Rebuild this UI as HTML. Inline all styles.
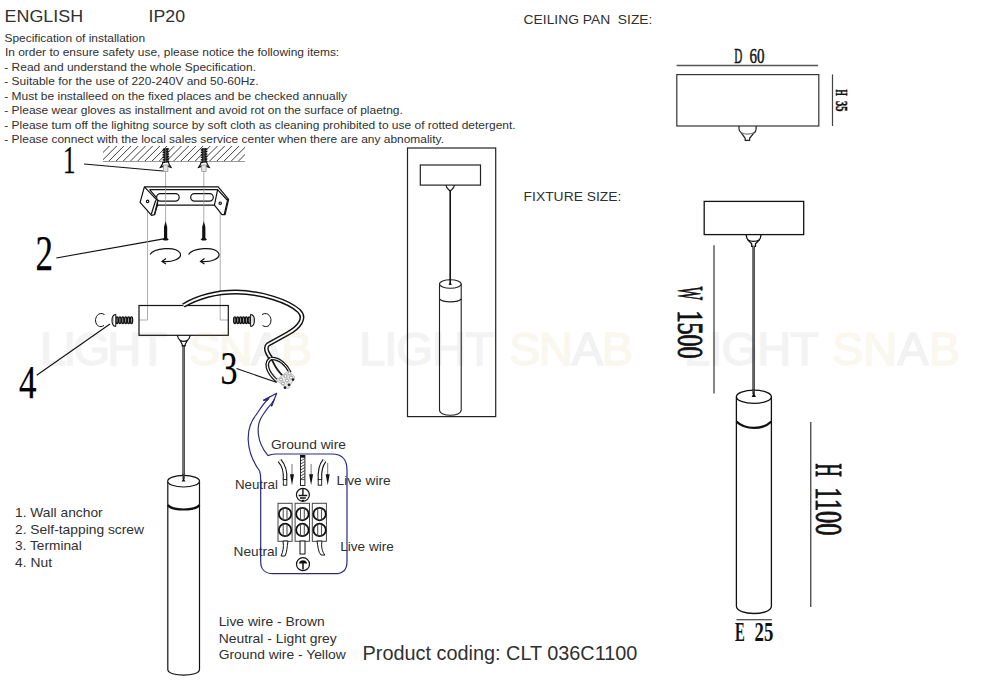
<!DOCTYPE html>
<html><head><meta charset="utf-8">
<style>
html,body{margin:0;padding:0;background:#fff;width:1000px;height:690px;overflow:hidden}
svg{display:block}
.t{font-family:"Liberation Sans",sans-serif;fill:#303030}
.s{font-family:"Liberation Serif",serif;fill:#111;font-weight:bold}
.wm{font-family:"Liberation Sans",sans-serif;font-size:46px;font-weight:bold}
</style></head>
<body>
<svg width="1000" height="690" viewBox="0 0 1000 690">
<!-- header text -->
<g class="t">
<text x="4.6" y="21.6" font-size="16.5" textLength="78.5" lengthAdjust="spacingAndGlyphs">ENGLISH</text>
<text x="148.6" y="21.6" font-size="16.5" textLength="36.5" lengthAdjust="spacingAndGlyphs">IP20</text>
<g font-size="11.5">
<text x="4.5" y="41.7" textLength="140.6" lengthAdjust="spacingAndGlyphs">Specification of installation</text>
<text x="4.9" y="56" textLength="334.3" lengthAdjust="spacingAndGlyphs">In order to ensure safety use, please notice the following items:</text>
<text x="4.3" y="71" textLength="251.7" lengthAdjust="spacingAndGlyphs">- Read and understand the whole Specification.</text>
<text x="4.3" y="85.3" textLength="254.3" lengthAdjust="spacingAndGlyphs">- Suitable for the use of 220-240V and 50-60Hz.</text>
<text x="4.3" y="99.8" textLength="342.7" lengthAdjust="spacingAndGlyphs">- Must be installeed on the fixed places and be checked annually</text>
<text x="4.3" y="114.2" textLength="398.5" lengthAdjust="spacingAndGlyphs">- Please wear gloves as installment and avoid rot on the surface of plaetng.</text>
<text x="4.3" y="128.6" textLength="511.3" lengthAdjust="spacingAndGlyphs">- Please tum off the lighitng source by soft cloth as cleaning prohibited to use of rotted detergent.</text>
<text x="4.3" y="143" textLength="439.7" lengthAdjust="spacingAndGlyphs">- Please connect with the local sales service center when there are any abnomality.</text>
</g>
<text x="523.6" y="24" font-size="13.5" textLength="128.8" lengthAdjust="spacingAndGlyphs" xml:space="preserve">CEILING PAN  SIZE:</text>
<text x="523.6" y="200.8" font-size="13.5" textLength="97.8" lengthAdjust="spacingAndGlyphs">FIXTURE SIZE:</text>

<g font-size="13">
<text x="15" y="516.8" textLength="87.7" lengthAdjust="spacingAndGlyphs">1. Wall anchor</text>
<text x="15" y="533.5" textLength="129" lengthAdjust="spacingAndGlyphs">2. Self-tapping screw</text>
<text x="15" y="550.3" textLength="66.7" lengthAdjust="spacingAndGlyphs">3. Terminal</text>
<text x="15" y="567.1" textLength="37" lengthAdjust="spacingAndGlyphs">4. Nut</text>
<text x="218.7" y="625.8" textLength="106" lengthAdjust="spacingAndGlyphs">Live wire - Brown</text>
<text x="218.7" y="642.5" textLength="118" lengthAdjust="spacingAndGlyphs">Neutral - Light grey</text>
<text x="218.7" y="659.2" textLength="127" lengthAdjust="spacingAndGlyphs">Ground wire - Yellow</text>
</g>
<text x="362.6" y="660" font-size="20" textLength="274.8" lengthAdjust="spacingAndGlyphs">Product coding: CLT 036C1100</text>

<g font-size="12.2">
<text x="270.9" y="448.5" textLength="75" lengthAdjust="spacingAndGlyphs">Ground wire</text>
<text x="234.9" y="489.4" textLength="43" lengthAdjust="spacingAndGlyphs">Neutral</text>
<text x="336.6" y="484.9" textLength="54" lengthAdjust="spacingAndGlyphs">Live wire</text>
<text x="233.6" y="556.2" textLength="44" lengthAdjust="spacingAndGlyphs">Neutral</text>
<text x="340.2" y="551" textLength="53.6" lengthAdjust="spacingAndGlyphs">Live wire</text>
</g>
</g>

<!-- big callout numbers -->
<g font-family="Liberation Serif" fill="#000" stroke="#000" stroke-width="0.25">
<text x="63" y="172.8" font-size="39" textLength="12.5" lengthAdjust="spacingAndGlyphs">1</text>
<text x="35.6" y="269.9" font-size="50.5" textLength="17.5" lengthAdjust="spacingAndGlyphs">2</text>
<text x="220.5" y="383.5" font-size="46" textLength="17" lengthAdjust="spacingAndGlyphs">3</text>
<text x="19" y="397.6" font-size="46.5" textLength="17.5" lengthAdjust="spacingAndGlyphs">4</text>
</g>

<!-- leader lines -->
<g stroke="#111" stroke-width="1.1" fill="none">
<line x1="84" y1="164" x2="163" y2="171"/>
<line x1="56.3" y1="258" x2="165" y2="238.6"/>
<line x1="236.5" y1="368.5" x2="276.3" y2="382.3"/>
<line x1="36.7" y1="375.3" x2="110" y2="324"/>
</g>

<!-- ceiling hatch -->
<defs>
<clipPath id="hc"><rect x="103" y="145.5" width="142" height="16"/></clipPath>
</defs>
<g clip-path="url(#hc)" stroke="#333" stroke-width="0.95"><path d="M86.8 161.5 l15.5 -15.5 M94.0 161.5 l15.5 -15.5 M101.2 161.5 l15.5 -15.5 M108.4 161.5 l15.5 -15.5 M115.6 161.5 l15.5 -15.5 M122.8 161.5 l15.5 -15.5 M130.0 161.5 l15.5 -15.5 M137.2 161.5 l15.5 -15.5 M144.4 161.5 l15.5 -15.5 M151.6 161.5 l15.5 -15.5 M158.8 161.5 l15.5 -15.5 M166.0 161.5 l15.5 -15.5 M173.2 161.5 l15.5 -15.5 M180.4 161.5 l15.5 -15.5 M187.6 161.5 l15.5 -15.5 M194.8 161.5 l15.5 -15.5 M202.0 161.5 l15.5 -15.5 M209.2 161.5 l15.5 -15.5 M216.4 161.5 l15.5 -15.5 M223.6 161.5 l15.5 -15.5 M230.8 161.5 l15.5 -15.5 M238.0 161.5 l15.5 -15.5 M245.2 161.5 l15.5 -15.5 "/></g>
<line x1="103" y1="161.5" x2="245" y2="161.5" stroke="#999" stroke-width="1.2"/>

<!-- thin guide lines -->
<g stroke="#999" stroke-width="0.8">
<line x1="165.6" y1="172" x2="165.6" y2="222"/>
<line x1="203.8" y1="172" x2="203.8" y2="222"/>
<path d="M147.5 202 V320 H139" fill="none"/>
<path d="M220.2 203 V320 H228.3" fill="none"/>
</g>

<!-- wall anchors -->
<g id="anchor">
<path d="M163.4 148 H168 L168.6 162 L164 163 Z" fill="#333"/>
<path d="M162.6 150 l6.6 -1.2 M162.6 152.5 l6.6 -1.2 M162.6 155 l6.6 -1.2 M162.6 157.5 l6.6 -1.2 M162.6 160 l6.6 -1.2 M162.6 162.5 l6.6 -1.2" stroke="#111" stroke-width="1.3"/>
<path d="M165.7 148 V163" stroke="#777" stroke-width="0.8"/>
<path d="M163 162 C162.5 165 161 166.5 160.3 167.5 C162 167.2 163.2 166.5 163.6 165.5 M168.4 162 C168.9 165 170.4 166.5 171.1 167.5 C169.4 167.2 168.2 166.5 167.8 165.5" fill="none" stroke="#111" stroke-width="1.2"/>
<rect x="163.5" y="165" width="4.4" height="6.5" fill="#e4e4e4" stroke="#888" stroke-width="0.7"/>
</g>
<use href="#anchor" x="38.2"/>

<!-- bracket -->
<g stroke="#111" stroke-width="1.2" fill="#fff" stroke-linejoin="round">
<path d="M144.4 186.9 H218.2 L228.6 199.4 L225.1 214.7 L222 214.7 L214.4 205.2 H157.4 L154.5 214.7 L151.6 215.3 L140.1 202.3 Z"/>
<path d="M144.4 186.9 L157.7 200.8 L154.5 214.7 M155.7 200.3 L151.3 214.2 M149.6 189.6 L156.3 197.4 M157.7 200.8 L157.4 205.2" fill="none"/>
<path d="M149.6 189.6 H217.6 L227.2 200 M217.6 189.8 L214.4 205.2 M227.5 200.3 L224.3 214.2 M228.6 199.4 L227.2 200" fill="none"/>
<rect x="156.6" y="193.6" width="22.6" height="7.5" rx="3.75"/>
<rect x="190.7" y="193.6" width="22.6" height="7.5" rx="3.75"/>
<circle cx="147.6" cy="201.4" r="1.2"/>
<circle cx="220.2" cy="203.2" r="1.2"/>
</g>
<!-- guide line through slots -->
<g stroke="#999" stroke-width="0.8">
<line x1="165.6" y1="188" x2="165.6" y2="206"/>
<line x1="203.8" y1="188" x2="203.8" y2="206"/>
</g>

<!-- screws -->
<g fill="#111">
<path d="M165.6 221 l1.6 6 v11 l1.6 1.5 l-1.6 1 h-3.2 l-1.6 -1 l1.6 -1.5 v-11 z"/>
<path d="M203.8 221 l1.6 6 v11 l1.6 1.5 l-1.6 1 h-3.2 l-1.6 -1 l1.6 -1.5 v-11 z"/>
</g>

<!-- rotation arrows -->
<g stroke="#111" stroke-width="1.2" fill="none">
<path d="M150 254.5 C154 248 176 246 180 253 C183 259 172 262 163 261.5"/>
<path d="M166 258.5 L162 261.5 L166 264"/>
<path d="M188.5 254.5 C192.5 248 214.5 246 218.5 253 C221.5 259 210.5 262 201.5 261.5"/>
<path d="M204.5 258.5 L200.5 261.5 L204.5 264"/>
</g>

<!-- canopy box -->
<rect x="139" y="305.5" width="89.3" height="29.8" fill="none" stroke="#111" stroke-width="1.2"/>

<!-- side screws -->
<g>
<rect x="115.6" y="317.59999999999997" width="17.30000000000001" height="5.2" fill="#999"/>
<ellipse cx="117.04" cy="320.2" rx="1.21" ry="3.3" fill="none" stroke="#111" stroke-width="1.3"/>
<ellipse cx="119.92" cy="320.2" rx="1.21" ry="3.3" fill="none" stroke="#111" stroke-width="1.3"/>
<ellipse cx="122.81" cy="320.2" rx="1.21" ry="3.3" fill="none" stroke="#111" stroke-width="1.3"/>
<ellipse cx="125.69" cy="320.2" rx="1.21" ry="3.3" fill="none" stroke="#111" stroke-width="1.3"/>
<ellipse cx="128.57" cy="320.2" rx="1.21" ry="3.3" fill="none" stroke="#111" stroke-width="1.3"/>
<ellipse cx="131.46" cy="320.2" rx="1.21" ry="3.3" fill="none" stroke="#111" stroke-width="1.3"/>
<path d="M115.8 314.3 C110.8 315 110.8 325.8 115.8 326.5" fill="#fff" stroke="#111" stroke-width="1.2"/>
<path d="M115.8 314.3 V326.5" stroke="#111" stroke-width="1"/>
<path d="M113.3 317 v6.5" stroke="#aaa" stroke-width="0.9"/>
<rect x="233.4" y="317.59999999999997" width="17.299999999999983" height="5.2" fill="#999"/>
<ellipse cx="234.84" cy="320.2" rx="1.21" ry="3.3" fill="none" stroke="#111" stroke-width="1.3"/>
<ellipse cx="237.72" cy="320.2" rx="1.21" ry="3.3" fill="none" stroke="#111" stroke-width="1.3"/>
<ellipse cx="240.61" cy="320.2" rx="1.21" ry="3.3" fill="none" stroke="#111" stroke-width="1.3"/>
<ellipse cx="243.49" cy="320.2" rx="1.21" ry="3.3" fill="none" stroke="#111" stroke-width="1.3"/>
<ellipse cx="246.38" cy="320.2" rx="1.21" ry="3.3" fill="none" stroke="#111" stroke-width="1.3"/>
<ellipse cx="249.26" cy="320.2" rx="1.21" ry="3.3" fill="none" stroke="#111" stroke-width="1.3"/>
<path d="M250.6 314.3 C255.6 315 255.6 325.8 250.6 326.5" fill="#fff" stroke="#111" stroke-width="1.2"/>
<path d="M250.6 314.3 V326.5" stroke="#111" stroke-width="1"/>
<path d="M253.1 317 v6.5" stroke="#aaa" stroke-width="0.9"/>
</g>
<!-- clips -->
<g stroke="#111" stroke-width="1" fill="none">
<path d="M104.5 314.5 C98 311 95 318 95.6 321 C96 326 100 328 104 325.5"/>
<path d="M262 314.5 C268.5 311 271.5 318 270.9 321 C270.5 326 266.5 328 262.5 325.5"/>
</g>

<!-- nipple and cable (left) -->
<line x1="183.6" y1="345" x2="183.6" y2="480" stroke="#3a3a3a" stroke-width="2.6"/>
<line x1="183.6" y1="345" x2="183.6" y2="480" stroke="#888" stroke-width="0.8"/>
<path d="M177.4 335.3 C177.6 338 178.5 339 180 340.3 L182.2 344.3 V345.8 H185.2 V344.3 L187.5 340.3 C189 339 190 338 190.2 335.3 M180 340.3 C182 341.5 185.5 341.5 187.5 340.3" fill="none" stroke="#111" stroke-width="1.2"/>

<!-- wire loop -->
<path d="M183.4 305.5 C198 297 215 292 236 292 C262 292.5 288 301 299 311 C306 318 300 327 287 334 L268 344.5 C264.5 347.5 267 353 271 358.5" fill="none" stroke="#111" stroke-width="4.8" stroke-linejoin="round"/>
<path d="M183.4 305.5 C198 297 215 292 236 292 C262 292.5 288 301 299 311 C306 318 300 327 287 334 L268 344.5 C264.5 347.5 267 353 271 358.5" fill="none" stroke="#fff" stroke-width="1.9" stroke-linejoin="round"/>
<!-- terminal cluster -->
<g stroke="#1a1a1a" fill="none">
<path d="M271 358.5 C265 362 265.5 371 277.5 381.5" stroke-width="3.8"/>
<path d="M271 358.5 C265 362 265.5 371 277.5 381.5" stroke="#fff" stroke-width="1.2"/>
<path d="M271.5 359 C274 364 277 372 284.5 377" stroke-width="1.8"/>
<path d="M271 358.5 C279.5 358 286.5 365 290 372.5" stroke-width="3.4"/>
<path d="M271 358.5 C279.5 358 286.5 365 290 372.5" stroke="#fff" stroke-width="1"/>
</g>
<path d="M276 380 L288 371 L295 377 L288 389 Z" fill="#e6e6e6" stroke="#aaa" stroke-width="0.7"/>
<g fill="#222">
<circle cx="293" cy="379.6" r="1.4"/><circle cx="289" cy="384.8" r="1.4"/><circle cx="285" cy="387.7" r="1.4"/>
</g>
<g fill="#fff" stroke="#777" stroke-width="0.7">
<circle cx="281" cy="379.5" r="1.5"/><circle cx="285.5" cy="376" r="1.5"/><circle cx="289.5" cy="373.5" r="1.5"/>
<circle cx="283" cy="383.5" r="1.5"/><circle cx="287" cy="380.5" r="1.5"/><circle cx="291" cy="377.5" r="1.5"/>
</g>

<!-- left tube -->
<g stroke="#111" stroke-width="1.2" fill="#fff">
<path d="M167.8 481.2 V669.5 C167.8 677 199.5 677 199.5 669.5 V481.2"/>
<ellipse cx="183.6" cy="481.2" rx="15.9" ry="5.8"/>
</g>
<path d="M167.8 505 C172 511 195 511 199.5 505" fill="none" stroke="#111" stroke-width="2.2"/>
<line x1="183.6" y1="474" x2="183.6" y2="479" stroke="#3a3a3a" stroke-width="2.4"/>
<path d="M181.6 481.5 h3.8 l-1.9 -3.5 z" fill="#111"/>

<!-- blue wiring outline -->
<g stroke="#2b2a80" stroke-width="1.2" fill="none" stroke-linejoin="round">
<path d="M259.6 471 C245 451 245 428 256.3 414.6 C259.5 410 263.5 403 268.5 398.7"/>
<path d="M268 455.6 C256.5 442 255.5 425 262.8 415 C266 410 269.5 405.5 273.5 401.3"/>
<path d="M263.3 400.4 L276.7 393.3 L271.5 406.3"/>
<path d="M268 455.6 C270 454.5 272 454 276 454 H332 C343 454 347 460 347 470 V561.7 C347 570 342 573.7 335 573.7 H273 C265 573.7 260.7 569 260.7 561.7 V480 C260.7 476 260.3 473 259.6 471"/>
</g>
<path d="M263.3 400.4 L270 396.8 L267.6 400.2 Z M271.5 406.3 L274.6 399 L272.6 401.4 Z" fill="#2b2a80" stroke="#2b2a80" stroke-width="0.8"/>

<!-- wiring internals -->
<g fill="none" stroke-linecap="butt">
<path d="M279.5 460.5 C283.5 465 285.8 471 285 480" stroke="#111" stroke-width="4.6"/>
<path d="M279.5 460.5 C283.5 465 285.8 471 285 480" stroke="#fff" stroke-width="2.4"/>
<path d="M324.5 460.5 C320.8 465 319.4 471 320 480" stroke="#111" stroke-width="4.6"/>
<path d="M324.5 460.5 C320.8 465 319.4 471 320 480" stroke="#fff" stroke-width="2.4"/>
</g>
<g stroke="#111" stroke-width="0.9" fill="#fff">
<rect x="283.3" y="479.6" width="3.5" height="5.6"/>
<rect x="300.5" y="455.5" width="4.4" height="30"/>
<rect x="318.2" y="479.6" width="3.5" height="5.6"/>
</g>
<rect x="300.5" y="455.2" width="4.4" height="2.5" fill="#111"/>
<g stroke="#333" stroke-width="0.9">
<path d="M300.5 461 l4.4 -2.5 M300.5 464 l4.4 -2.5 M300.5 467 l4.4 -2.5 M300.5 470 l4.4 -2.5 M300.5 473 l4.4 -2.5 M300.5 476 l4.4 -2.5 M300.5 479 l4.4 -2.5"/>
<line x1="300.5" y1="479.6" x2="304.9" y2="479.6"/>
</g>
<g stroke="#666" stroke-width="0.9">
<line x1="292" y1="464" x2="292" y2="475"/>
<line x1="311.1" y1="464" x2="311.1" y2="475"/>
<line x1="327.7" y1="463" x2="327.7" y2="475"/>
</g>
<g fill="#111">
<path d="M290 474.3 h4 l-2 11 z"/>
<path d="M309.1 474.3 h4 l-2 11 z"/>
<path d="M325.7 474.3 h4 l-2 11 z"/>
</g>
<!-- ground symbols -->
<g stroke="#111" stroke-width="1.2" fill="#fff">
<circle cx="302.9" cy="494.8" r="6.5"/>
<circle cx="303" cy="564.2" r="6.5"/>
</g>
<g stroke="#111" stroke-width="1.2" fill="none">
<path d="M302.9 488.5 v7 M298.6 495.5 h8.6 M300 498 h5.8 M301.6 500.5 h2.6" stroke-width="1.4"/>
<path d="M303 569.5 v-8" stroke-width="1.5"/>
<path d="M298.8 563.5 C299.5 559 306.5 559 307.2 563.5 Z" fill="#111" stroke="none"/>
</g>
<!-- terminal block -->
<g stroke="#444" stroke-width="1" fill="#fff">
<rect x="278" y="503.3" width="14.1" height="38"/>
<rect x="295.1" y="503.3" width="14.4" height="38"/>
<rect x="312.3" y="503.3" width="14.1" height="38"/>
</g>
<g stroke="#111" stroke-width="1.8" fill="#fff">
<circle cx="285.1" cy="514.1" r="6.2"/><circle cx="285.1" cy="529.9" r="6.2"/>
<circle cx="302.4" cy="514.1" r="6.2"/><circle cx="302.4" cy="529.9" r="6.2"/>
<circle cx="319.6" cy="514.1" r="6.2"/><circle cx="319.6" cy="529.9" r="6.2"/>
</g>
<g stroke="#555" stroke-width="1.1">
<path d="M283.2 508.6 v11 M287 508.6 v11 M283.2 524.4 v11 M287 524.4 v11"/>
<path d="M300.5 508.6 v11 M304.3 508.6 v11 M300.5 524.4 v11 M304.3 524.4 v11"/>
<path d="M317.7 508.6 v11 M321.5 508.6 v11 M317.7 524.4 v11 M321.5 524.4 v11"/>
</g>
<!-- lower wires -->
<g stroke="#111" stroke-width="1" fill="#fff">
<path d="M283 541 h5 C287 547 287 552 285 556 h-4 C283 552 284 547 283 541 Z"/>
<rect x="300" y="541" width="5" height="13"/>
<path d="M317 541 h5 C321 546 322 552 325 555 h-4 C318 552 318 546 317 541 Z"/>
</g>

<!-- middle illustration -->
<g stroke="#222" stroke-width="1.2" fill="none">
<rect x="407.5" y="148" width="88.2" height="268.6"/>
<rect x="420.3" y="165" width="60.2" height="20.1"/>
<path d="M446 185.1 C446 188 448 189 450.2 191 C452.4 189 454.4 188 454.4 185.1"/>
</g>
<line x1="450.2" y1="190" x2="450.2" y2="284" stroke="#111" stroke-width="1.6"/>
<g stroke="#222" stroke-width="1.1" fill="#fff">
<path d="M439.5 284 V410 C439.5 417 461.2 417 461.2 410 V284"/>
<ellipse cx="450.35" cy="284" rx="10.85" ry="4.3"/>
</g>
<path d="M439.5 299 C443 302.8 458 302.8 461.2 299" fill="none" stroke="#222" stroke-width="1.2"/>
<line x1="450.2" y1="279" x2="450.2" y2="284" stroke="#111" stroke-width="1.6"/>
<path d="M448.6 285 h3.2 l-1.6 -3 z" fill="#111"/>

<!-- ceiling pan drawing -->
<g stroke="#333" stroke-width="1.2" fill="none">
<line x1="676.6" y1="65.5" x2="818" y2="65.5" stroke="#555" stroke-width="1.3"/>
<rect x="676.8" y="74.6" width="142" height="51.4"/>
<line x1="832.5" y1="74.4" x2="832.5" y2="126" stroke="#444"/>
<path d="M739 126 V129 C739 131 740 132 741.3 132.8 L745.2 138.3 V140.4 H749.6 V138.3 L754 132.8 C755.5 132 756.1 131 756.1 129 V126" stroke="#222"/>
<path d="M741.3 132.8 C745 134.3 750 134.3 754 132.8" stroke="#777"/>
</g>
<g font-family="Liberation Serif" fill="#111">
<text x="734.2" y="62.7" stroke="#111" stroke-width="0.5" font-size="22" textLength="8" lengthAdjust="spacingAndGlyphs">D</text>
<text x="749.6" y="62.7" stroke="#111" stroke-width="0.5" font-size="22" textLength="15" lengthAdjust="spacingAndGlyphs">60</text>
<g transform="translate(836 89.5) rotate(90)" stroke="#111" stroke-width="0.5"><text x="0" y="0" font-size="16.5" textLength="6.2" lengthAdjust="spacingAndGlyphs" font-weight="bold">H</text><text x="11.5" y="0" font-size="16.5" textLength="10.5" lengthAdjust="spacingAndGlyphs" font-weight="bold">35</text></g>
</g>

<!-- fixture drawing -->
<g stroke="#111" stroke-width="1.3" fill="none">
<rect x="704.2" y="201.4" width="99.5" height="33.2"/>
<path d="M746.1 234.6 C746.5 238 747 239 748 240 L751.7 243.7 V246.3 H755.5 V243.7 L759.2 240 C760.2 239 760.7 238 761.1 234.6"/>
<path d="M748 240 C751 241.8 756 241.8 759.2 240"/>
</g>
<line x1="753.6" y1="246" x2="753.6" y2="396" stroke="#3a3a3a" stroke-width="2.6"/>
<line x1="753.6" y1="246" x2="753.6" y2="396" stroke="#777" stroke-width="0.9"/>
<g stroke="#222" stroke-width="1.1">
<line x1="714" y1="245.2" x2="714" y2="393.4"/>
<line x1="810.8" y1="422" x2="810.8" y2="607"/>
<line x1="736.5" y1="619.7" x2="771.8" y2="619.7"/>
</g>
<g stroke="#111" stroke-width="1.3" fill="#fff">
<path d="M736.4 396.7 V606 C736.4 616 771.4 616 771.4 606 V396.7"/>
<ellipse cx="753.9" cy="396.7" rx="17.5" ry="6.6"/>
</g>
<path d="M736.4 421.5 C745 430 763 430 771.4 421.5" fill="none" stroke="#111" stroke-width="2.4"/>
<line x1="753.6" y1="389" x2="753.6" y2="394" stroke="#3a3a3a" stroke-width="2.6"/>
<path d="M751.6 397 h4.4 l-2.2 -4.5 z" fill="#111"/>
<g font-family="Liberation Serif" fill="#111">
<g transform="translate(678 286.8) rotate(90)" stroke="#111" stroke-width="0.95"><text x="0" y="0" font-size="36.5" textLength="13.3" lengthAdjust="spacingAndGlyphs">W</text><text x="23.6" y="0" font-size="36.5" textLength="48.3" lengthAdjust="spacingAndGlyphs">1500</text></g>
<g transform="translate(816 463.5) rotate(90)" stroke="#111" stroke-width="0.95"><text x="0" y="0" font-size="37" textLength="13.3" lengthAdjust="spacingAndGlyphs">H</text><text x="23.8" y="0" font-size="37" textLength="48.3" lengthAdjust="spacingAndGlyphs">1100</text></g>
<text x="735" y="641.3" font-size="28" font-weight="bold" textLength="9.8" lengthAdjust="spacingAndGlyphs">E</text>
<text x="754.5" y="641.3" font-size="28" font-weight="bold" textLength="18.8" lengthAdjust="spacingAndGlyphs">25</text>
</g>
<!-- watermark -->
<g font-family="Liberation Sans">
<g opacity="0.045" fill="#000" stroke="#000" stroke-width="1.6"><text x="40" y="365" font-size="47" textLength="127" lengthAdjust="spacing">LIGHT</text></g>
<g opacity="0.07" fill="rgb(190,160,30)" stroke="rgb(190,160,30)" stroke-width="1.6"><text x="189" y="365" font-size="47" textLength="123" lengthAdjust="spacing">SN<tspan fill="rgba(0,0,0,0.6)" stroke="rgba(0,0,0,0.6)">A</tspan>B</text></g>
<g opacity="0.045" fill="#000" stroke="#000" stroke-width="1.6"><text x="359" y="365" font-size="47" textLength="135" lengthAdjust="spacing">LIGHT</text></g>
<g opacity="0.07" fill="rgb(190,160,30)" stroke="rgb(190,160,30)" stroke-width="1.6"><text x="509" y="365" font-size="47" textLength="124" lengthAdjust="spacing">SN<tspan fill="rgba(0,0,0,0.6)" stroke="rgba(0,0,0,0.6)">A</tspan>B</text></g>
<g opacity="0.045" fill="#000" stroke="#000" stroke-width="1.6"><text x="684" y="365" font-size="47" textLength="135" lengthAdjust="spacing">LIGHT</text></g>
<g opacity="0.07" fill="rgb(190,160,30)" stroke="rgb(190,160,30)" stroke-width="1.6"><text x="832" y="365" font-size="47" textLength="128" lengthAdjust="spacing">SN<tspan fill="rgba(0,0,0,0.6)" stroke="rgba(0,0,0,0.6)">A</tspan>B</text></g>
</g>
</svg>
</body></html>
